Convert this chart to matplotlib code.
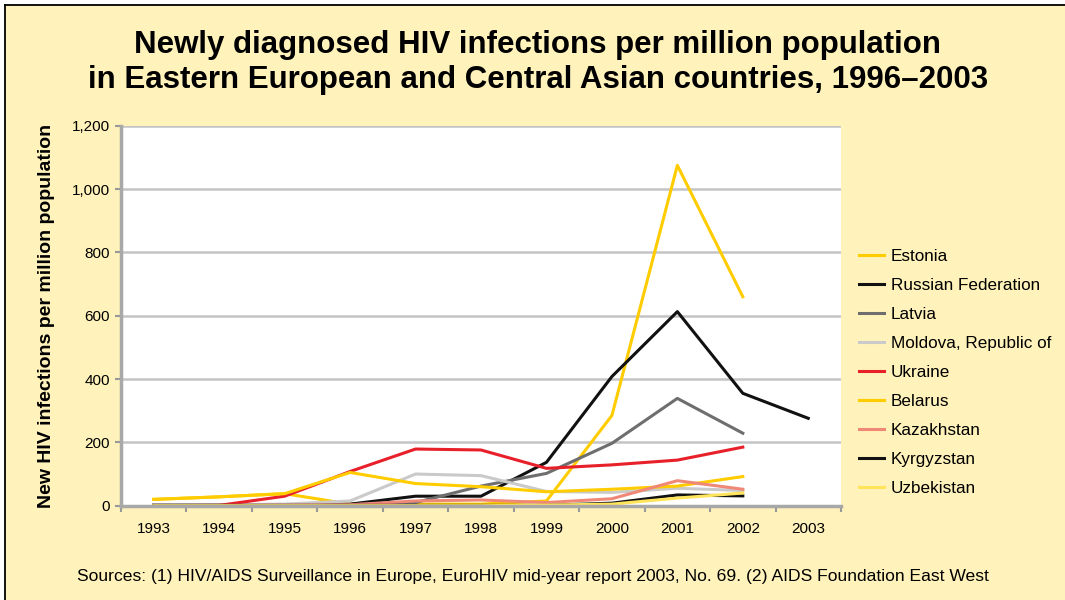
import matplotlib
matplotlib.use('Agg')
import matplotlib.pyplot as plt
from matplotlib.patches import Rectangle
from matplotlib.lines import Line2D
from matplotlib.ticker import FuncFormatter

years = ["1993", "1994", "1995", "1996", "1997", "1998", "1999",
         "2000", "2001", "2002", "2003"]

countries = ["Estonia", "Russian Federation", "Latvia", "Moldova, Republic of",
             "Ukraine", "Belarus", "Kazakhstan", "Kyrgyzstan", "Uzbekistan"]

# values, per million population (None = no data)
estonia = [20, 28, 38, 5, 5, 5, 15, 285, 1075, 660, None]
russia = [3, 3, 3, 5, 30, 30, 137, 408, 613, 355, 276]
latvia = [3, 3, 3, 3, 10, 62, 102, 197, 339, 229, None]
moldova = [3, 3, 5, 15, 100, 95, 45, 42, 55, 48, None]
ukraine = [0, 1, 30, 108, 179, 176, 118, 129, 144, 185, None]
belarus = [20, 28, 38, 105, 70, 60, 44, 52, 62, 92, None]
kazakhstan = [1, 1, 2, 3, 15, 18, 10, 22, 79, 52, None]
kyrgyzstan = [1, 1, 1, 1, 1, 1, 1, 8, 34, 31, None]
uzbekistan = [0, 0, 0, 0, 0, 0, 2, 5, 24, 40, None]

series = [estonia, russia, latvia, moldova, ukraine, belarus,
          kazakhstan, kyrgyzstan, uzbekistan]
colors = ["#FFCC00", "#111111", "#6E6E6E", "#CACACA", "#E8202A",
          "#FFCC00", "#F08878", "#111111", "#FFE45C"]

bg = "#FFF2BA"
plt.rcParams['font.family'] = ['Liberation Sans', 'DejaVu Sans']

fig = plt.figure(figsize=(10.65, 6), dpi=100, facecolor="white")
# yellow panel with a black rule on the top and left edges only
fig.patches.append(Rectangle((5 / 1065, 0), 1, 595 / 600,
                             transform=fig.transFigure, facecolor=bg,
                             edgecolor="none", zorder=-10))
fig.lines.append(Line2D([5 / 1065, 1], [595 / 600, 595 / 600],
                        transform=fig.transFigure, color="black", lw=1.3))
fig.lines.append(Line2D([5 / 1065, 5 / 1065], [0, 595 / 600],
                        transform=fig.transFigure, color="black", lw=1.3))

ax = fig.add_axes([121 / 1065, 1 - 505.7 / 600, 720 / 1065, 379.9 / 600])
ax.set_facecolor("white")

x = list(range(len(years)))
for name, vals, c in zip(countries, series, colors):
    xs = [i for i, v in zip(x, vals) if v is not None]
    ys = [v for v in vals if v is not None]
    ax.plot(xs, ys, color=c, lw=2.2, label=name)

ax.set_xlim(-0.5, 10.5)
ax.set_ylim(0, 1200)
ax.set_yticks(range(0, 1201, 200))
ax.yaxis.set_major_formatter(FuncFormatter(lambda v, p: f"{int(v):,}"))
ax.set_xticks(x)
ax.set_xticklabels(years, fontsize=11)
ax.set_xticks([i - 0.5 for i in range(len(years) + 1)], minor=True)
ax.tick_params(axis='x', which='major', length=0, pad=12)
ax.tick_params(axis='x', which='minor', length=4, color="#999999", width=1.5)
ax.tick_params(axis='y', length=4, color="#999999", width=1.5, pad=4,
               labelsize=11)

ax.grid(axis='y', color="#C4C4C4", lw=1.8)
ax.set_axisbelow(True)
for s in ["top", "right"]:
    ax.spines[s].set_visible(False)
ax.spines["left"].set_color("#A8A8A8")
ax.spines["left"].set_linewidth(2.5)
ax.spines["bottom"].set_color("#A8A8A8")
ax.spines["bottom"].set_linewidth(2.5)

ax.set_ylabel("New HIV infections per million population", fontsize=14,
              fontweight="bold", labelpad=12)

fig.text(0.505, 1 - 45 / 600, "Newly diagnosed HIV infections per million population",
         ha="center", va="center", fontsize=22.5, fontweight="bold")
fig.text(0.505, 1 - 80 / 600, "in Eastern European and Central Asian countries, 1996\u20132003",
         ha="center", va="center", fontsize=22.5, fontweight="bold")

leg = ax.legend(loc="upper left", bbox_to_anchor=(844 / 1065, 1 - 234 / 600),
                bbox_transform=fig.transFigure, frameon=False,
                handlelength=1.45, handletextpad=0.4, labelspacing=0.82,
                prop={'size': 12.3})

fig.text(0.5, 1 - 576 / 600,
         "Sources: (1) HIV/AIDS Surveillance in Europe, EuroHIV mid-year report 2003, No. 69. (2) AIDS Foundation East West",
         ha="center", va="center", fontsize=12.6)

plt.savefig("out.png", dpi=100, facecolor=fig.get_facecolor())
